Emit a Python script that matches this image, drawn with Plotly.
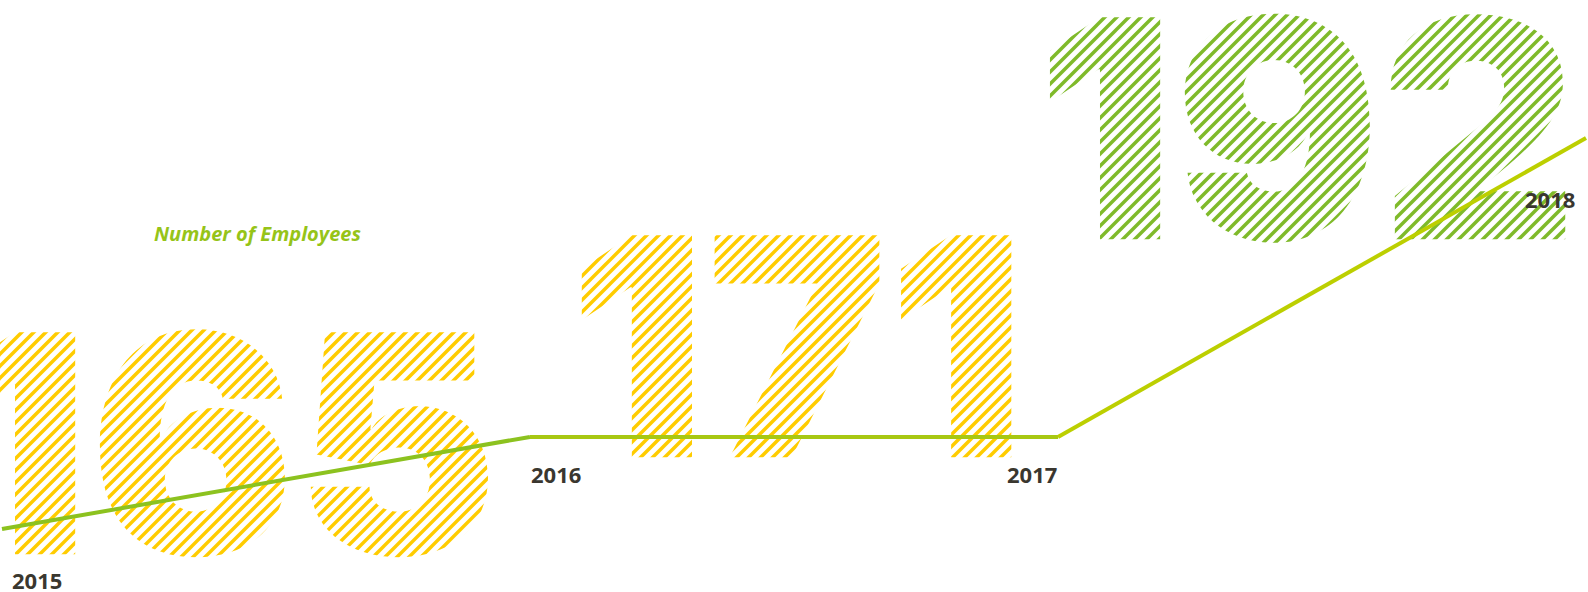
import plotly.graph_objects as go

# ---- data ----
years = [2015, 2016, 2017, 2018]
employees = [165, 171, 171, 192]
big_numbers = ["165", "171", "192"]
year_labels = ["2015", "2016", "2017", "2018"]
title_text = "Number of Employees"

# ---- styling / layout (pixel space of the 1588x592 canvas) ----
W, H = 1588, 592
big_x = [225, 797, 1307]
big_y = [478, 381, 163]
big_colors = ["#ffcc00", "#ffcc00", "#7fba2a"]
big_size = 305
seg_colors = ["#8cc21f", "#a8c812", "#bccf00"]
label_pos = [(10, 579.5, "left"), (529, 473.5, "left"), (1059, 473.5, "right"), (1577, 198.5, "right")]

fig = go.Figure()

# big numbers on pixel axes (one trace per number)
for num, bx, by, col in zip(big_numbers, big_x, big_y, big_colors):
    fig.add_trace(go.Scatter(
        x=[bx], y=[by], mode="text", text=[num],
        textposition="middle center",
        textfont=dict(family="Inter", size=big_size, weight=900, color=col),
        hoverinfo="skip", showlegend=False, cliponaxis=False,
    ))

# diagonal white hatching over the numbers
hx, hy = [], []
step = 12
for c in range(0, W + H + step, step):
    hx += [c, c - H, None]
    hy += [0, H, None]
fig.add_trace(go.Scatter(
    x=hx, y=hy, mode="lines", line=dict(color="white", width=5),
    hoverinfo="skip", showlegend=False,
))

# employee line (overlay axes, per-segment colours)
for i in range(len(years) - 1):
    fig.add_trace(go.Scatter(
        x=years[i:i + 2], y=employees[i:i + 2], mode="lines",
        line=dict(color=seg_colors[i], width=4),
        xaxis="x2", yaxis="y2", showlegend=False, hoverinfo="x+y",
    ))

# year labels
for (px, py, anc), lab in zip(label_pos, year_labels):
    fig.add_annotation(x=px, y=py, xref="x", yref="y", text=f"<b>{lab}</b>",
                       showarrow=False, xanchor=anc, yanchor="middle",
                       font=dict(family="Open Sans", size=22, color="#3a372f"))

fig.add_annotation(x=152, y=233.5, xref="x", yref="y", text=f"<b><i>{title_text}</i></b>",
                   showarrow=False, xanchor="left", yanchor="middle",
                   font=dict(family="Open Sans", size=20, color="#96c418"))

px_per_year = 528
fig.update_layout(
    width=W, height=H, margin=dict(l=0, r=0, t=0, b=0),
    paper_bgcolor="white", plot_bgcolor="white",
    xaxis=dict(range=[0, W], visible=False, fixedrange=True),
    yaxis=dict(range=[H, 0], visible=False, fixedrange=True),
    xaxis2=dict(range=[years[0] - 2 / px_per_year, years[-1] + 2 / px_per_year],
                overlaying="x", visible=False, fixedrange=True),
    yaxis2=dict(type="log", range=[2.206895, 2.306524],
                overlaying="y", visible=False, fixedrange=True),
)

fig.write_html("out.html")
